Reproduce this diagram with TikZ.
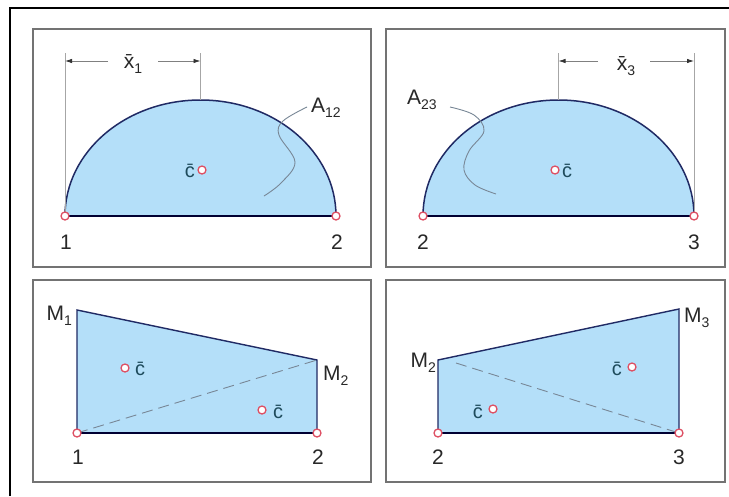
\documentclass[tikz,border=0pt]{standalone}
\usepackage{fontspec}
\setmainfont{Liberation Sans}
\usetikzlibrary{arrows.meta}
\definecolor{fillblue}{RGB}{180,223,249}
\definecolor{edgeblue}{RGB}{32,42,100}
\definecolor{ptred}{RGB}{222,80,100}
\definecolor{cteal}{RGB}{30,75,92}
\definecolor{lbl}{RGB}{40,40,40}
\definecolor{panelgray}{RGB}{115,115,115}
\definecolor{leadgray}{RGB}{120,135,150}
\newcommand\lowidx[1]{\raisebox{-0.5ex}{\fontsize{14}{16}\selectfont #1}}
\begin{document}
\begin{tikzpicture}[x=1pt,y=-1pt,
  panelbox/.style={draw=panelgray, line width=1.6pt},
  area/.style={fill=fillblue, draw=edgeblue, line width=1.4pt},
  baseln/.style={draw=black!80!blue, line width=1.4pt},
  pt/.style={circle, draw=ptred, fill=white, line width=1.3pt, inner sep=0pt, minimum size=8pt},
  lab/.style={text=lbl, font=\fontsize{21}{24}\selectfont, inner sep=0pt},
  cbar/.style={text=cteal, font=\fontsize{20}{22}\selectfont, inner sep=0pt},
  leader/.style={draw=leadgray, line width=0.9pt},
  tip/.style={-{Latex[length=7pt,width=4.5pt,color=black!80]}, draw=gray, line width=0.8pt},
  extln/.style={draw=gray!70, line width=0.8pt},
  dashln/.style={draw=leadgray, line width=0.9pt, dash pattern=on 11pt off 6pt}]
\useasboundingbox (0,0) rectangle (729,496);
\fill[white] (0,0) rectangle (729,496);
% outer frame
\draw[black, line width=1.6pt] (10,496) -- (10,8) -- (729,8);
% panels
\draw[panelbox] (33,29) rectangle (371,267);
\draw[panelbox] (386,29) rectangle (725,267);
\draw[panelbox] (33,280) rectangle (371,482);
\draw[panelbox] (386,280) rectangle (725,482);

% ---------- top-left ----------
\coordinate (TLa) at (65,216);
\coordinate (TLb) at (336,216);
\coordinate (TLtop) at (200.5,100);
\fill[fillblue] (TLa) arc[start angle=180, end angle=360, x radius=135.5, y radius=116] -- cycle;
\draw[draw=edgeblue, line width=1.5pt] (TLa) arc[start angle=180, end angle=360, x radius=135.5, y radius=116];
\draw[baseln] (TLa) -- (TLb);
\coordinate (TLe1) at (65,53);
\coordinate (TLe2) at (200.5,53);
\draw[extln] (TLe1) -- (TLa);
\draw[extln] (TLe2) -- (TLtop);
\coordinate (TLd1) at (65,61);
\coordinate (TLd2) at (200.5,61);
\coordinate (TLd1s) at (108,61);
\coordinate (TLd2s) at (158,61);
\draw[tip] (TLd1s) -- (TLd1);
\draw[tip] (TLd2s) -- (TLd2);
\node[lab, anchor=base] (x1) at (133,68) {\={x}\lowidx{1}};
\node[lab, anchor=base west] (A12) at (311,112) {A\lowidx{12}};
\draw[leader] plot[smooth, tension=0.6] coordinates {(307,107) (283,121) (279,135) (295,162) (281,183) (264,196)};
\node[pt] (cTL) at (202,170) {};
\node[cbar, anchor=base east] (cbTL) at (195,177) {\={c}};
\node[pt] (p1) at (TLa) {};
\node[pt] (p2) at (TLb) {};
\node[lab, anchor=base] (n1) at (66,249) {1};
\node[lab, anchor=base] (n2) at (337,249) {2};

% ---------- top-right ----------
\coordinate (TRa) at (423,216);
\coordinate (TRb) at (694,216);
\coordinate (TRtop) at (558.5,100);
\fill[fillblue] (TRa) arc[start angle=180, end angle=360, x radius=135.5, y radius=116] -- cycle;
\draw[draw=edgeblue, line width=1.5pt] (TRa) arc[start angle=180, end angle=360, x radius=135.5, y radius=116];
\draw[baseln] (TRa) -- (TRb);
\coordinate (TRe1) at (558.5,53);
\coordinate (TRe2) at (694,53);
\draw[extln] (TRe1) -- (TRtop);
\draw[extln] (TRe2) -- (TRb);
\coordinate (TRd1) at (558.5,61);
\coordinate (TRd2) at (694,61);
\coordinate (TRd1s) at (598,61);
\coordinate (TRd2s) at (650,61);
\draw[tip] (TRd1s) -- (TRd1);
\draw[tip] (TRd2s) -- (TRd2);
\node[lab, anchor=base] (x3) at (626,70) {\={x}\lowidx{3}};
\node[lab, anchor=base west] (A23) at (407,104) {A\lowidx{23}};
\draw[leader] plot[smooth, tension=0.6] coordinates {(450,107) (474,115) (484,131) (469,151) (464,170) (475,185) (496,194)};
\node[pt] (cTR) at (555,170) {};
\node[cbar, anchor=base west] (cbTR) at (562,177) {\={c}};
\node[pt] (p2r) at (TRa) {};
\node[pt] (p3) at (TRb) {};
\node[lab, anchor=base] (n2r) at (423,249) {2};
\node[lab, anchor=base] (n3) at (694,249) {3};

% ---------- bottom-left ----------
\coordinate (BL1) at (77,433);
\coordinate (BL2) at (317,433);
\coordinate (BLM1) at (77,310);
\coordinate (BLM2) at (317,360);
\fill[fillblue] (BL1) -- (BLM1) -- (BLM2) -- (BL2) -- cycle;
\draw[draw=edgeblue, line width=1.4pt] (BL1) -- (BLM1) -- (BLM2) -- (BL2);
\draw[baseln] (BL1) -- (BL2);
\draw[dashln] (BL1) -- (BLM2);
\node[lab, anchor=base east] (M1) at (72,320) {M\lowidx{1}};
\node[lab, anchor=base west] (M2a) at (323,380) {M\lowidx{2}};
\node[pt] (cBL1) at (125,368) {};
\node[cbar, anchor=base west] (cbBL1) at (135,375) {\={c}};
\node[pt] (cBL2) at (262,410) {};
\node[cbar, anchor=base west] (cbBL2) at (273,418) {\={c}};
\node[pt] (q1) at (BL1) {};
\node[pt] (q2) at (BL2) {};
\node[lab, anchor=base] (m1) at (78,464) {1};
\node[lab, anchor=base] (m2) at (318,464) {2};

% ---------- bottom-right ----------
\coordinate (BR2) at (438,433);
\coordinate (BR3) at (679,433);
\coordinate (BRM2) at (438,360);
\coordinate (BRM3) at (679,309);
\fill[fillblue] (BR2) -- (BRM2) -- (BRM3) -- (BR3) -- cycle;
\draw[draw=edgeblue, line width=1.4pt] (BR2) -- (BRM2) -- (BRM3) -- (BR3);
\draw[baseln] (BR2) -- (BR3);
\coordinate (BRds) at (456,363);
\draw[dashln] (BRds) -- (BR3);
\node[lab, anchor=base east] (M2b) at (436,367) {M\lowidx{2}};
\node[lab, anchor=base west] (M3) at (684,322) {M\lowidx{3}};
\node[pt] (cBR1) at (493,409) {};
\node[cbar, anchor=base east] (cbBR1) at (483,418) {\={c}};
\node[pt] (cBR2) at (632,367) {};
\node[cbar, anchor=base east] (cbBR2) at (622,375) {\={c}};
\node[pt] (r2) at (BR2) {};
\node[pt] (r3) at (BR3) {};
\node[lab, anchor=base] (k2) at (438,464) {2};
\node[lab, anchor=base] (k3) at (679,464) {3};
\end{tikzpicture}
\end{document}
